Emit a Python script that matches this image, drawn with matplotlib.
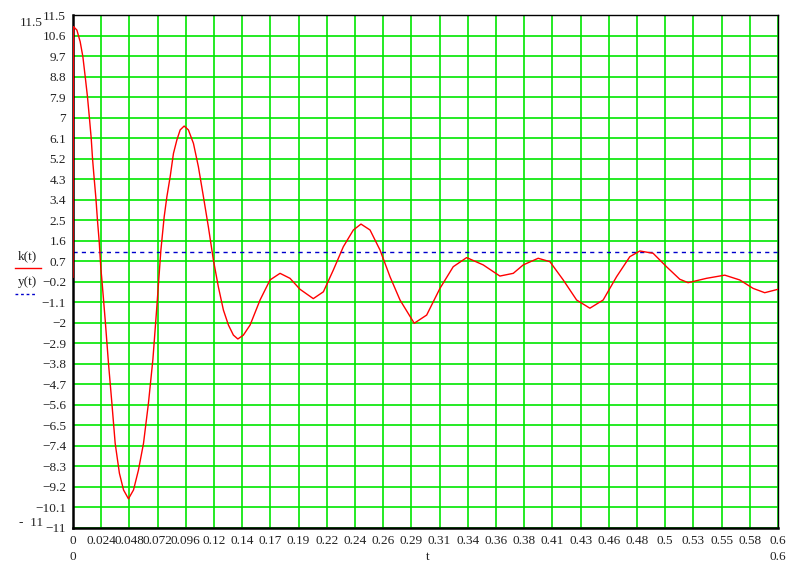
import matplotlib.pyplot as plt

plt.rcParams['font.family'] = ['Liberation Serif', 'DejaVu Serif']

# k(t)
t = [0.0, 0.0004, 0.0033, 0.0061, 0.0084, 0.0104, 0.0123, 0.0140, 0.0155, 0.0166,
     0.0180, 0.0195, 0.0208, 0.0223, 0.0237, 0.0246, 0.0274, 0.0302, 0.0331, 0.0359,
     0.0395, 0.0430, 0.0472, 0.0515, 0.0557, 0.0600, 0.0642, 0.0680, 0.0712, 0.0748,
     0.0776, 0.0799, 0.0827, 0.0855, 0.0884, 0.0912, 0.0946, 0.0982, 0.1025, 0.1067,
     0.1110, 0.1152, 0.1195, 0.1237, 0.1280, 0.1323, 0.1365, 0.1403, 0.1450, 0.1507,
     0.1592, 0.1677, 0.1762, 0.1847, 0.1932, 0.2045, 0.2131, 0.2216, 0.2301, 0.2386,
     0.2451, 0.2528, 0.2613, 0.2698, 0.2783, 0.2904, 0.3010, 0.3123, 0.3236, 0.3350,
     0.3491, 0.3633, 0.3747, 0.3832, 0.3959, 0.4059, 0.4172, 0.4286, 0.4399, 0.4512,
     0.4626, 0.4739, 0.4824, 0.4937, 0.5051, 0.5164, 0.5235, 0.5391, 0.5547, 0.5674,
     0.5788, 0.5887, 0.6]
k = [0.0, 10.99, 10.84, 10.33, 9.67, 8.79, 7.92, 6.97, 6.09, 5.21,
     4.34, 3.46, 2.51, 1.56, 0.39, -0.12, -1.88, -3.78, -5.53, -7.29,
     -8.6, -9.33, -9.72, -9.33, -8.46, -7.29, -5.53, -3.6, -1.4, 1.19,
     2.65, 3.53, 4.41, 5.43, 6.02, 6.46, 6.63, 6.46, 5.87, 4.85,
     3.53, 2.21, 0.75, -0.42, -1.44, -2.1, -2.54, -2.71, -2.54, -2.1,
     -1.0, -0.12, 0.17, -0.05, -0.53, -0.94, -0.64, 0.32, 1.34, 2.07,
     2.33, 2.07, 1.19, 0.02, -1.0, -2.02, -1.66, -0.49, 0.46, 0.86,
     0.54, 0.05, 0.17, 0.54, 0.83, 0.68, -0.12, -1.0, -1.36, -1.0,
     0.02, 0.9, 1.15, 1.05, 0.46, -0.09, -0.24, -0.05, 0.09, -0.12,
     -0.49, -0.68, -0.53]

# y(t) is a constant level
y_level = 1.1

x_ticks = [0, 0.024, 0.048, 0.072, 0.096, 0.12, 0.144, 0.168, 0.192, 0.216, 0.24,
           0.264, 0.288, 0.312, 0.336, 0.36, 0.384, 0.408, 0.432, 0.456, 0.48,
           0.504, 0.528, 0.552, 0.576, 0.6]
x_labels = ['0', '0.024', '0.048', '0.072', '0.096', '0.12', '0.14', '0.17', '0.19',
            '0.22', '0.24', '0.26', '0.29', '0.31', '0.34', '0.36', '0.38', '0.41',
            '0.43', '0.46', '0.48', '0.5', '0.53', '0.55', '0.58', '0.6']
y_ticks = [11.5, 10.6, 9.7, 8.8, 7.9, 7, 6.1, 5.2, 4.3, 3.4, 2.5, 1.6, 0.7, -0.2,
           -1.1, -2, -2.9, -3.8, -4.7, -5.6, -6.5, -7.4, -8.3, -9.2, -10.1, -11]
y_labels = [str(v).replace('-', '\u2212') for v in y_ticks]

fig = plt.figure(figsize=(8.02, 5.64), dpi=100)
ax = fig.add_axes([73 / 802, 36 / 564, 705 / 802, 513 / 564])

ax.plot(t, k, color='red', lw=1.0, zorder=3)
ax.axhline(y_level, color='#0000cc', lw=1.0, ls=(0, (3, 3)), zorder=2)

ax.set_xlim(0, 0.6)
ax.set_ylim(-11, 11.5)
ax.set_xticks(x_ticks)
ax.set_xticklabels(x_labels)
ax.set_yticks(y_ticks)
ax.set_yticklabels(y_labels)
ax.tick_params(length=0, labelsize=9.5, colors='#222222', pad=5)
ax.grid(True, color='#00e600', lw=1.2)
ax.set_axisbelow(True)
for s in ax.spines.values():
    s.set_color('black')
    s.set_linewidth(1.0)
ax.spines['left'].set_linewidth(1.8)
ax.spines['bottom'].set_linewidth(1.8)

# extra labels around the plot (Mathcad style)
fs = 9.5
fig.text(43 / 802, 1 - 23 / 564, '11.5', ha='right', va='center', fontsize=fs, color='#222222')
fig.text(43 / 802, 1 - 523 / 564, '-  11', ha='right', va='center', fontsize=fs, color='#222222')
fig.text(73 / 802, 1 - 557 / 564, '0', ha='center', va='center', fontsize=fs, color='#222222')
fig.text(778 / 802, 1 - 557 / 564, '0.6', ha='center', va='center', fontsize=fs, color='#222222')
fig.text(428 / 802, 1 - 557 / 564, 't', ha='center', va='center', fontsize=fs, color='#222222')

# legend on the left
fig.text(27 / 802, 1 - 256 / 564, 'k(t)', ha='center', va='center', fontsize=fs, color='#222222')
fig.add_artist(plt.Line2D([15 / 802, 41 / 802], [1 - 268 / 564] * 2, color='red', lw=1.0))
fig.text(27 / 802, 1 - 282 / 564, 'y(t)', ha='center', va='center', fontsize=fs, color='#222222')
fig.add_artist(plt.Line2D([15 / 802, 37 / 802], [1 - 294 / 564] * 2, color='#0000cc',
                          lw=1.0, ls=(0, (2, 2))))

plt.savefig('out.png', dpi=100)
